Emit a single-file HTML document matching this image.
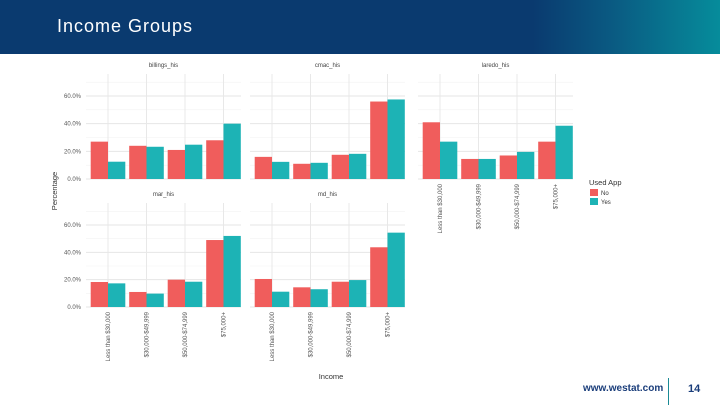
<!DOCTYPE html>
<html><head><meta charset="utf-8"><style>
body{margin:0;width:720px;height:405px;overflow:hidden;background:#fff;font-family:"Liberation Sans",sans-serif;}
#hdr{position:absolute;left:0;top:0;width:720px;height:54px;background:linear-gradient(90deg,#0a3a6f 0%,#0a3a6f 74%,#0a5a82 85%,#068c9b 100%);}
#title{position:absolute;left:57px;top:16px;color:#fff;font-size:18px;letter-spacing:1px;}
#web{position:absolute;left:583px;top:383px;color:#1a3d7a;font-size:10px;font-weight:bold;}
#sep{position:absolute;left:668px;top:378px;width:1px;height:27px;background:#1a8a95;}
#pg{position:absolute;left:688px;top:383px;color:#1a3d7a;font-size:11px;font-weight:bold;}
svg{position:absolute;left:0;top:0;}
</style></head><body>
<div id="hdr"><div id="title">Income Groups</div></div>
<svg id="chart" width="720" height="405"></svg>
<div id="web">www.westat.com</div>
<div id="sep"></div>
<div id="pg">14</div>
<script>
const panels=["billings_his","cmac_his","laredo_his","mar_his","md_his"];
const categories=["Less than $30,000","$30,000-$49,999","$50,000-$74,999","$75,000+"];
const noValues=[[27,24,21,28],[16,11,17.5,56],[41,14.5,17,27],[18.3,11,20,49],[20.5,14.4,18.5,43.7]];
const yesValues=[[12.5,23.3,24.8,40],[12.4,11.7,18.2,57.5],[27,14.5,19.6,38.5],[17.3,9.8,18.5,52],[11.2,13,19.7,54.4]];
const yTicks=[0,20,40,60];
const yTickLabels=["0.0%","20.0%","40.0%","60.0%"];
const NS="http://www.w3.org/2000/svg";
const svg=document.getElementById('chart');
function mk(t,a,p){const e=document.createElementNS(NS,t);for(const k in a)e.setAttribute(k,a[k]);(p||svg).appendChild(e);return e;}
const panelX=[86,250,418,86,250];
const rowBase=[179,307];const rowTop60=[96,225];
const PW=155;
function yScale(row,v){return rowBase[row]-v*(rowBase[row]-rowTop60[row])/60;}
function xCenter(p,i){return panelX[p]+22+i*38.5;}
panels.forEach((name,p)=>{
  const row=p<3?0:1;
  const g=mk('g',{});
  
  
  const top=rowTop60[row]-22;
  for(let v=0;v<=70;v+=10){const y=yScale(row,v);if(y<top)continue;mk('line',{x1:panelX[p],x2:panelX[p]+PW,y1:y,y2:y,stroke:v%20==0?'#e6e6e6':'#f2f2f2','stroke-width':v%20==0?1:0.6},g);}
  categories.forEach((c,i)=>{const x=xCenter(p,i);mk('line',{x1:x,x2:x,y1:top,y2:rowBase[row],stroke:'#e8e8e8','stroke-width':1},g);});
  const t=mk('text',{x:panelX[p]+PW/2,y:top-7,'font-size':6,fill:'#444','text-anchor':'middle'},g);t.textContent=name;
  
  categories.forEach((c,i)=>{
    const x=xCenter(p,i);
    const r1=mk('rect',{x:x-17.3,y:yScale(row,noValues[p][i]),width:17.3,height:rowBase[row]-yScale(row,noValues[p][i]),fill:'#f05d5c'},g);
    
    const r2=mk('rect',{x:x,y:yScale(row,yesValues[p][i]),width:17.3,height:rowBase[row]-yScale(row,yesValues[p][i]),fill:'#1db3b5'},g);
    
  });
  if(p==0||p==3){yTicks.forEach((v,k)=>{const tl=mk('text',{x:panelX[p]-5,y:yScale(row,v)+2,'font-size':6,fill:'#555','text-anchor':'end'},g);tl.textContent=yTickLabels[k];
    });}
  if(p>=2){categories.forEach((c,i)=>{const x=xCenter(p,i);const tl=mk('text',{x:0,y:0,'font-size':6,fill:'#555','text-anchor':'end',transform:`translate(${x+2},${rowBase[row]+5}) rotate(-90)`},g);tl.textContent=c;
    });}
});
const yt=mk('text',{x:0,y:0,'font-size':7.5,fill:'#333','text-anchor':'middle',transform:'translate(57,191) rotate(-90)'});yt.textContent='Percentage';

const xt=mk('text',{x:331,y:379,'font-size':7.5,fill:'#333','text-anchor':'middle'});xt.textContent='Income';

const lg=mk('g',{});
const lt=mk('text',{x:589,y:185,'font-size':7.5,fill:'#333'},lg);lt.textContent='Used App';
mk('rect',{x:590,y:189,width:8,height:7,fill:'#f05d5c'},lg);
mk('rect',{x:590,y:198,width:8,height:7,fill:'#1db3b5'},lg);
const l1=mk('text',{x:601,y:195,'font-size':6,fill:'#333'},lg);l1.textContent='No';
const l2=mk('text',{x:601,y:204,'font-size':6,fill:'#333'},lg);l2.textContent='Yes';
</script>
</body></html>
